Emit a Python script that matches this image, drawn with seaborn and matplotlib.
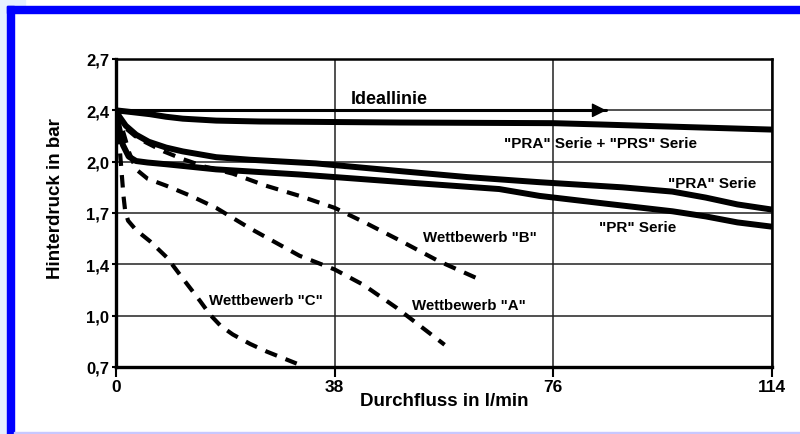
import numpy as np
import pandas as pd
import matplotlib
matplotlib.use('Agg')
import matplotlib.pyplot as plt
from matplotlib.patches import Rectangle
import seaborn as sns

# achsen
x_ticks = [0, 38, 76, 114]
y_ticks = [0.7, 1.0, 1.4, 1.7, 2.0, 2.4, 2.7]
y_ticklabels = ['0,7', '1,0', '1,4', '1,7', '2,0', '2,4', '2,7']

# kurven
ideal_x = [0, 85.2]
ideal_y = [2.4, 2.4]

pra_prs_x = [0, 3, 5.9, 8.7, 11.6, 17.4, 25, 34.7, 49.3, 76, 84, 95, 114]
pra_prs_y = [2.40, 2.385, 2.37, 2.35, 2.335, 2.32, 2.313, 2.31, 2.305, 2.30, 2.29, 2.275, 2.25]

pra_x = [0, 0.6, 1.7, 3.5, 5.7, 8.7, 11.6, 17.4, 23.3, 34.7, 49.3, 61, 73.6, 88, 96.7, 102.5, 108, 114]
pra_y = [2.40, 2.35, 2.28, 2.21, 2.155, 2.11, 2.08, 2.035, 2.015, 1.99, 1.945, 1.91, 1.88, 1.85, 1.825, 1.79, 1.75, 1.72]

pr_x = [0, 0.5, 1.2, 2.2, 3.5, 5.5, 8.7, 17.4, 31.9, 38, 52, 66.6, 73.6, 85, 96.7, 102.5, 108, 114]
pr_y = [2.40, 2.27, 2.13, 2.04, 2.005, 1.995, 1.985, 1.955, 1.925, 1.91, 1.875, 1.84, 1.80, 1.755, 1.71, 1.68, 1.645, 1.62]

b_x = [0, 0.8, 1.7, 3.3, 5.2, 8.3, 11.6, 15.5, 20.3, 26, 31.9, 38, 43.5, 49.3, 56, 62.8]
b_y = [2.40, 2.32, 2.26, 2.2, 2.15, 2.08, 2.02, 1.97, 1.93, 1.86, 1.80, 1.73, 1.64, 1.54, 1.42, 1.29]

a_x = [0, 0.6, 1.2, 2.3, 3.5, 5.5, 8.7, 13, 17.4, 23.3, 31.9, 38, 43, 48.8, 57.1]
a_y = [2.40, 2.32, 2.24, 2.07, 1.955, 1.9, 1.86, 1.80, 1.73, 1.61, 1.45, 1.36, 1.24, 1.06, 0.83]

c_x = [0, 0.5, 0.9, 1.3, 1.6, 2.1, 3.5, 5.9, 8.85, 11.6, 14.6, 16.3, 18.2, 20.3, 23.3, 26.2, 31.4]
c_y = [2.40, 2.18, 1.97, 1.80, 1.71, 1.655, 1.6, 1.535, 1.44, 1.29, 1.115, 1.01, 0.94, 0.89, 0.835, 0.79, 0.72]

# beschriftungen: text, x, y, groesse
labels = [
    ('Ideallinie', 47.5, 2.47, 13),
    ('"PRA" Serie + "PRS" Serie', 84.2, 2.144, 11),
    ('"PRA" Serie', 103.6, 1.875, 11),
    ('"PR" Serie', 90.7, 1.618, 11),
    ('Wettbewerb "B"', 63.3, 1.559, 10.8),
    ('Wettbewerb "A"', 61.4, 1.085, 10.8),
    ('Wettbewerb "C"', 26.0, 1.123, 10.8),
]

sns.set_theme(style='white', rc={'text.color': 'black', 'axes.labelcolor': 'black',
                                 'xtick.color': 'black', 'ytick.color': 'black'})
plt.rcParams['font.family'] = ['Liberation Sans', 'DejaVu Sans']
plt.rcParams['font.weight'] = 'bold'

# gleichmaessig verteilte y-teilung
pos = np.arange(len(y_ticks), dtype=float)


def fwd(v):
    v = np.asarray(v, dtype=float)
    out = np.interp(v, y_ticks, pos)
    out = np.where(v < y_ticks[0], (v - y_ticks[0]) / 0.3, out)
    out = np.where(v > y_ticks[-1], pos[-1] + (v - y_ticks[-1]) / 0.3, out)
    return out


def inv(p):
    p = np.asarray(p, dtype=float)
    out = np.interp(p, pos, y_ticks)
    out = np.where(p < 0, y_ticks[0] + p * 0.3, out)
    out = np.where(p > pos[-1], y_ticks[-1] + (p - pos[-1]) * 0.3, out)
    return out


fig = plt.figure(figsize=(8, 4.35), dpi=100)
fig.patch.set_facecolor('white')

# rahmen
fig.patches.append(Rectangle((0, 0), 7 / 800, 1, transform=fig.transFigure,
                             color='#e6f0ff', zorder=0))
fig.patches.append(Rectangle((0, 1 - 7 / 435), 25 / 800, 7 / 435, transform=fig.transFigure,
                             color='#e6f0ff', zorder=0))
fig.patches.append(Rectangle((7 / 800, 1 - 14 / 435), 1, 7 / 435, transform=fig.transFigure,
                             color='#0000ff', zorder=1))
fig.patches.append(Rectangle((7 / 800, 0), 7 / 800, 1 - 7 / 435, transform=fig.transFigure,
                             color='#0000ff', zorder=1))
fig.patches.append(Rectangle((14 / 800, 0), 1, 2 / 435, transform=fig.transFigure,
                             color='#c8c8ff', zorder=1))

ax = fig.add_axes([116 / 800, 1 - 368 / 435, 656 / 800, 308 / 435])

solid = dict(color='black', lw=4.3, estimator=None, solid_capstyle='butt', solid_joinstyle='round')
dashed = dict(color='black', lw=3, estimator=None, linestyle=(0, (3, 2.2)), dash_capstyle='butt')

sns.lineplot(x=ideal_x, y=ideal_y, ax=ax, color='black', lw=2.2, estimator=None)
ax.annotate('', xy=(ideal_x[1], ideal_y[1]), xytext=(ideal_x[1] - 3, ideal_y[1]),
            arrowprops=dict(arrowstyle='-|>', color='black', lw=1, mutation_scale=22,
                            shrinkA=0, shrinkB=0))
sns.lineplot(x=pra_prs_x, y=pra_prs_y, ax=ax, **solid)
sns.lineplot(x=pra_x, y=pra_y, ax=ax, **solid)
sns.lineplot(x=pr_x, y=pr_y, ax=ax, **solid)
sns.lineplot(x=b_x, y=b_y, ax=ax, **dashed)
sns.lineplot(x=a_x, y=a_y, ax=ax, **dashed)
sns.lineplot(x=c_x, y=c_y, ax=ax, **dashed)

for txt, tx, ty, fs in labels:
    ax.text(tx, ty, txt, ha='center', va='center', fontsize=fs, fontweight='bold', color='black')

ax.set_yscale('function', functions=(fwd, inv))
ax.set_xlim(0, 114)
ax.set_ylim(0.7, 2.7)
ax.set_xticks(x_ticks)
ax.set_xticklabels([str(t) for t in x_ticks])
ax.set_yticks(y_ticks)
ax.set_yticklabels(y_ticklabels)
ax.minorticks_off()

ax.grid(True, color='#222222', lw=1.1)
ax.set_axisbelow(True)
for side in ['left', 'bottom']:
    ax.spines[side].set_linewidth(2.4)
for side in ['top', 'right']:
    ax.spines[side].set_linewidth(1.8)
for s in ax.spines.values():
    s.set_color('black')

ax.tick_params(axis='y', direction='out', length=3, width=1.5, pad=2, labelsize=12, left=True,
               colors='black')
ax.tick_params(axis='x', direction='out', length=7, width=1.5, pad=2, labelsize=12.5, bottom=True,
               colors='black')
for lab in ax.get_xticklabels() + ax.get_yticklabels():
    lab.set_fontweight('bold')

ax.set_xlabel('Durchfluss in l/min', fontsize=13.5, fontweight='bold', color='black')
ax.set_ylabel('Hinterdruck in bar', fontsize=13.5, fontweight='bold', color='black')
ax.xaxis.set_label_coords(0.5, -0.08)
ax.yaxis.set_label_coords(-0.08, 0.55)

fig.savefig('out.png', dpi=100, facecolor='white')
